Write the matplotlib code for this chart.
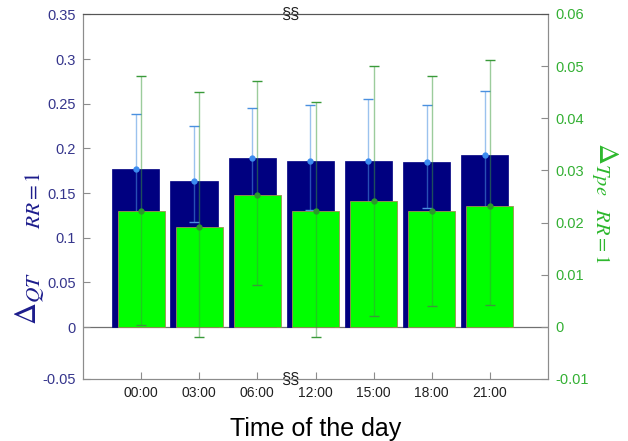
import numpy as np
import matplotlib
matplotlib.use("Agg")
import matplotlib.pyplot as plt

plt.rcParams['font.family'] = ['Liberation Sans', 'DejaVu Sans']
plt.rcParams['mathtext.fontset'] = 'stix'

# categorias (hora del dia)
hours = ['00:00', '03:00', '06:00', '12:00', '15:00', '18:00', '21:00']

# Delta QT (eje izquierdo)
qt_mean = [0.177, 0.163, 0.189, 0.186, 0.1855, 0.185, 0.1924]
qt_err_up = [0.062, 0.0625, 0.056, 0.062, 0.0695, 0.063, 0.0723]
qt_err_lo = [0.055, 0.046, 0.052, 0.055, 0.058, 0.052, 0.060]

# Delta Tpe (eje derecho)
tpe_mean = [0.0223, 0.0192, 0.0252, 0.0222, 0.0241, 0.0222, 0.0232]
tpe_upper = [0.0481, 0.0451, 0.0472, 0.0432, 0.0501, 0.0481, 0.0512]
tpe_lower = [0.0003, -0.0019, 0.0081, -0.0019, 0.0020, 0.0040, 0.0041]

NAVY = '#000080'
GREEN = '#00ff00'
LEFT_TXT = '#35358c'
RIGHT_TXT = '#33b033'
GRAY = '#8c8c8c'

x = np.arange(len(hours))
w = 0.81
off = -0.09

fig = plt.figure(figsize=(6.28, 4.41), dpi=100)
ax = fig.add_axes([83/628, 1-379/441, 465/628, 365/441])
ax2 = ax.twinx()

# barras QT
ax.bar(x + off, qt_mean, width=w, color=NAVY, edgecolor=NAVY, linewidth=0.5, zorder=2)
eb = ax.errorbar(x + off, qt_mean, yerr=[qt_err_lo, qt_err_up], fmt='o', ms=3.5,
                 color='#3c8cf0', ecolor='#4a90e0', elinewidth=1.0, capsize=3.5,
                 capthick=1.0, zorder=3)
for c in eb[2]:
    c.set_alpha(0.55)
for c in eb[1]:
    c.set_color('#6a86b0')

# barras Tpe
ax2.bar(x, tpe_mean, width=w, color=GREEN, edgecolor='#a09050', linewidth=0.6, zorder=2)
t_lo = np.array(tpe_mean) - np.array(tpe_lower)
t_up = np.array(tpe_upper) - np.array(tpe_mean)
eb2 = ax2.errorbar(x, tpe_mean, yerr=[t_lo, t_up], fmt='o', ms=3.5,
                   color='#2a9a2a', ecolor='#3a9a3a', elinewidth=1.0, capsize=3.5,
                   capthick=1.0, zorder=3)
for c in eb2[2]:
    c.set_alpha(0.5)
for c in eb2[1]:
    c.set_color('#a09a88')

ax.set_xlim(-1, 7)
ax.set_ylim(-0.0582, 0.3504)
ax2.set_ylim(-0.01, 0.06)
ax.axhline(0, color='#707070', lw=0.9, zorder=1)

ax.set_xticks(x)
ax.set_xticklabels(hours, fontsize=10, color='#202020')
left_ticks = [-0.0582, 0, 0.05, 0.1, 0.15, 0.2, 0.25, 0.3, 0.35]
ax.set_yticks(left_ticks)
ax.set_yticklabels(['-0.05', '0', '0.05', '0.1', '0.15', '0.2', '0.25', '0.3', '0.35'],
                   fontsize=10.5, color=LEFT_TXT)
ax2.set_yticks([-0.01, 0, 0.01, 0.02, 0.03, 0.04, 0.05, 0.06])
ax2.set_yticklabels(['-0.01', '0', '0.01', '0.02', '0.03', '0.04', '0.05', '0.06'],
                    fontsize=10.5, color=RIGHT_TXT)

ax.tick_params(axis='both', direction='in', length=5, color=GRAY, pad=5)
ax.tick_params(axis='x', top=False)
ax2.tick_params(axis='y', direction='in', length=5, color=GRAY, pad=5)

for a in (ax, ax2):
    for s in ('left', 'right', 'bottom'):
        a.spines[s].set_color(GRAY)
    a.spines['top'].set_color('#555555')

ax.set_xlabel('Time of the day', fontsize=18, labelpad=12)

fig.text(30/628, 1-248/441, r'$\Delta_{QT\qquad\quad RR=1}$', rotation=90,
         fontsize=22, color='#1c1c8c', ha='center', va='center')
fig.text(604/628, 1-203/441, r'$\Delta_{Tpe\quad RR=1}$', rotation=-90,
         fontsize=21, color='#2db82d', ha='center', va='center')

# marcas de significancia
ax.text(2.57, 1.0, '§§', transform=ax.get_xaxis_transform(), fontsize=12,
        ha='center', va='center', color='#202020')
ax.text(2.57, 0.0, '§§', transform=ax.get_xaxis_transform(), fontsize=12,
        ha='center', va='center', color='#202020')

fig.savefig('out.png', dpi=100)
